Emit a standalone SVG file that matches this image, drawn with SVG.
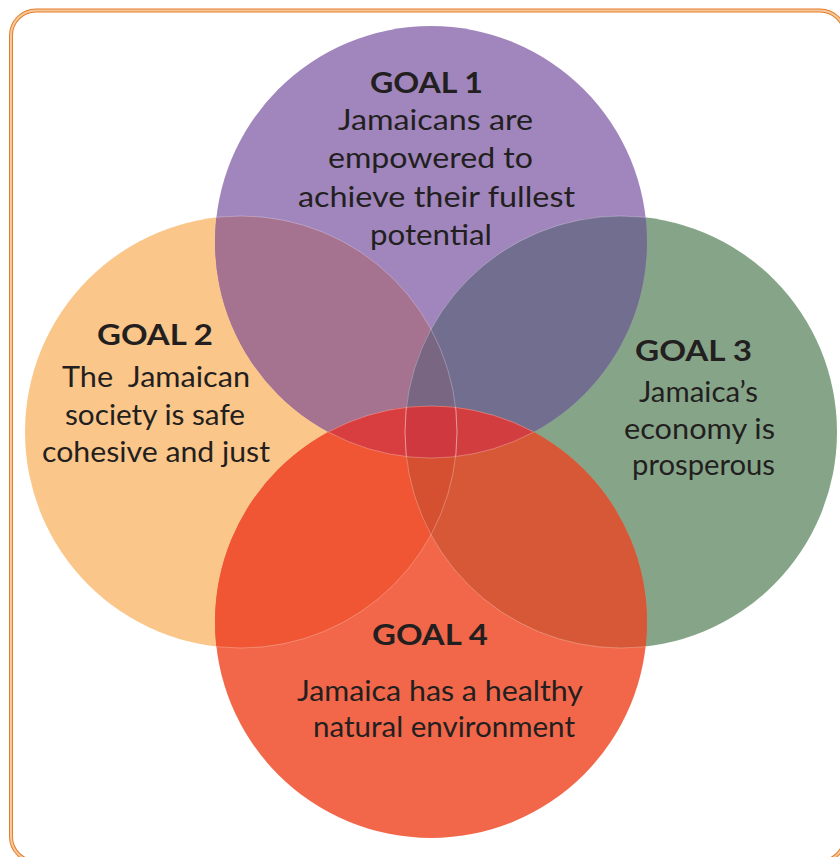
<svg xmlns="http://www.w3.org/2000/svg" width="840" height="857" viewBox="0 0 840 857">
<style>
.lbl{font-family:Lato,"Open Sans","Liberation Sans",sans-serif;fill:#231f20;font-size:28px}
.hd{font-weight:bold}
.edge{fill:none;stroke:#ffffff;stroke-opacity:0.35;stroke-width:0.8}
</style>
<defs>
<clipPath id="k1"><circle cx="431" cy="242" r="216"/></clipPath>
<clipPath id="k2"><circle cx="241" cy="432" r="216"/></clipPath>
<clipPath id="k3"><circle cx="621" cy="432" r="216"/></clipPath>
<clipPath id="k4"><circle cx="431" cy="622" r="216"/></clipPath>
</defs>
<rect x="0" y="0" width="840" height="857" fill="#ffffff"/>
<g id="frame">
<rect x="11" y="10.5" width="834" height="851" rx="25" fill="none" stroke="#e47d26" stroke-width="4"/>
<rect x="11" y="10.5" width="834" height="851" rx="25" fill="none" stroke="#f7c89d" stroke-width="2"/>
</g>
<g id="goal2"><circle cx="241" cy="432" r="216" fill="#fbc689"/>
<text class="lbl hd" x="97" y="345" textLength="116" lengthAdjust="spacingAndGlyphs">GOAL 2</text>
<text class="lbl" x="62" y="387" textLength="188" lengthAdjust="spacingAndGlyphs" xml:space="preserve">The  Jamaican</text>
<text class="lbl" x="65" y="425" textLength="180" lengthAdjust="spacingAndGlyphs">society is safe</text>
<text class="lbl" x="42" y="462" textLength="228" lengthAdjust="spacingAndGlyphs">cohesive and just</text>
</g>
<g id="goal3"><circle cx="621" cy="432" r="216" fill="#86a588"/>
<text class="lbl hd" x="635" y="361" textLength="117" lengthAdjust="spacingAndGlyphs">GOAL 3</text>
<text class="lbl" x="639" y="402" textLength="119" lengthAdjust="spacingAndGlyphs">Jamaica’s</text>
<text class="lbl" x="624" y="439" textLength="151" lengthAdjust="spacingAndGlyphs">economy is</text>
<text class="lbl" x="632" y="475" textLength="143" lengthAdjust="spacingAndGlyphs">prosperous</text>
</g>
<g id="goal1"><circle cx="431" cy="242" r="216" fill="#a086bd"/>
<text class="lbl hd" x="370" y="93" textLength="113" lengthAdjust="spacingAndGlyphs">GOAL 1</text>
<text class="lbl" x="338" y="130" textLength="195" lengthAdjust="spacingAndGlyphs">Jamaicans are</text>
<text class="lbl" x="328" y="168" textLength="205" lengthAdjust="spacingAndGlyphs">empowered to</text>
<text class="lbl" x="298" y="207" textLength="277" lengthAdjust="spacingAndGlyphs">achieve their fullest</text>
<text class="lbl" x="370" y="245" textLength="122" lengthAdjust="spacingAndGlyphs">potential</text>
</g>
<g id="goal4"><circle cx="431" cy="622" r="216" fill="#f26749"/>
<text class="lbl hd" x="372" y="645" textLength="116" lengthAdjust="spacingAndGlyphs">GOAL 4</text>
<text class="lbl" x="297" y="701" textLength="286" lengthAdjust="spacingAndGlyphs">Jamaica has a healthy</text>
<text class="lbl" x="313" y="737" textLength="262" lengthAdjust="spacingAndGlyphs">natural environment</text>
</g>
<g id="overlaps">
<circle cx="241" cy="432" r="216" fill="#a57290" clip-path="url(#k1)"/>
<circle cx="621" cy="432" r="216" fill="#726e8f" clip-path="url(#k1)"/>
<circle cx="241" cy="432" r="216" fill="#f05634" clip-path="url(#k4)"/>
<circle cx="621" cy="432" r="216" fill="#d75836" clip-path="url(#k4)"/>
<g clip-path="url(#k1)"><circle cx="621" cy="432" r="216" fill="#786682" clip-path="url(#k2)"/></g>
<g clip-path="url(#k1)"><circle cx="431" cy="622" r="216" fill="#d83d3f" clip-path="url(#k2)"/></g>
<g clip-path="url(#k1)"><circle cx="431" cy="622" r="216" fill="#d23e3f" clip-path="url(#k3)"/></g>
<g clip-path="url(#k4)"><circle cx="621" cy="432" r="216" fill="#d55030" clip-path="url(#k2)"/></g>
<g clip-path="url(#k1)"><g clip-path="url(#k4)"><circle cx="621" cy="432" r="216" fill="#cf383e" clip-path="url(#k2)"/></g></g>
<g clip-path="url(#k1)"><circle cx="241" cy="432" r="216" class="edge"/><circle cx="621" cy="432" r="216" class="edge"/><circle cx="431" cy="622" r="216" class="edge"/></g>
<g clip-path="url(#k4)"><circle cx="241" cy="432" r="216" class="edge"/><circle cx="621" cy="432" r="216" class="edge"/><circle cx="431" cy="242" r="216" class="edge"/></g>
</g>
</svg>
